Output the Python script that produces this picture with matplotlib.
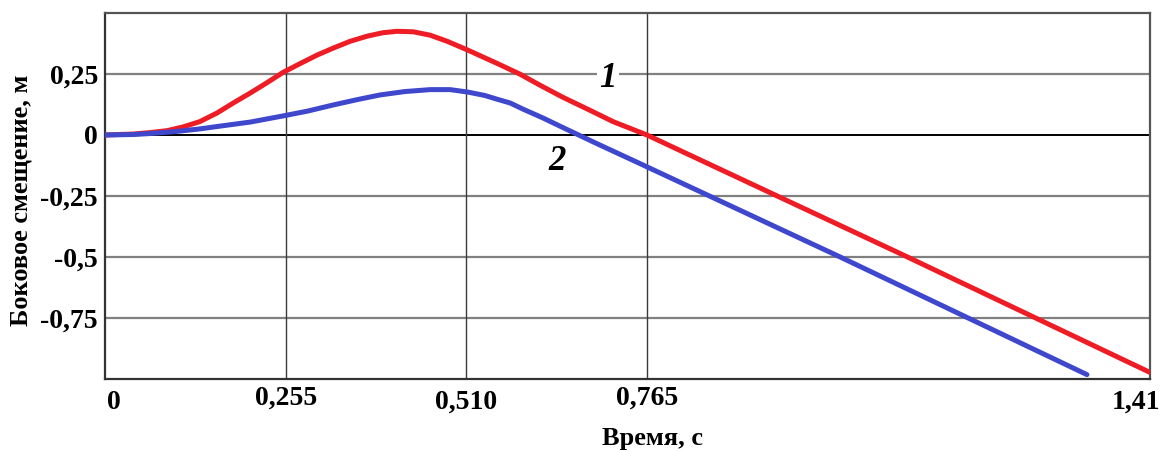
import matplotlib
matplotlib.use("Agg")
from matplotlib import pyplot as plt
from matplotlib import transforms

# Кривая 1 (красная): время, с / боковое смещение, м
t1 = [0, 0.040, 0.064, 0.088, 0.110, 0.134, 0.158, 0.181, 0.205, 0.229, 0.251,
      0.275, 0.299, 0.322, 0.346, 0.370, 0.392, 0.412, 0.435, 0.459, 0.483,
      0.512, 0.553, 0.586, 0.614, 0.646, 0.684, 0.717, 0.765, 1.132, 1.475]
y1 = [0, 0.004, 0.010, 0.018, 0.033, 0.055, 0.090, 0.131, 0.172, 0.215, 0.256,
      0.292, 0.327, 0.356, 0.384, 0.405, 0.419, 0.425, 0.423, 0.409, 0.384,
      0.348, 0.294, 0.249, 0.204, 0.155, 0.102, 0.055, 0.0, -0.499, -0.973]

# Кривая 2 (синяя)
t2 = [0, 0.040, 0.064, 0.099, 0.134, 0.169, 0.205, 0.251, 0.286, 0.322, 0.356,
      0.388, 0.423, 0.459, 0.487, 0.512, 0.536, 0.553, 0.572, 0.590, 0.618,
      0.646, 0.670, 0.694, 0.755, 1.037, 1.386]
y2 = [0, 0.002, 0.006, 0.014, 0.025, 0.039, 0.053, 0.078, 0.098, 0.123, 0.145,
      0.164, 0.178, 0.186, 0.186, 0.176, 0.162, 0.147, 0.131, 0.106, 0.070,
      0.031, -0.002, -0.035, -0.117, -0.499, -0.982]

xticks = [0, 0.255, 0.510, 0.765, 1.475]
xlabels = ["0", "0,255", "0,510", "0,765", "1,41"]
yticks = [0.25, 0, -0.25, -0.5, -0.75]
ylabels = ["0,25", "0", "-0,25", "-0,5", "-0,75"]

plt.rcParams['font.family'] = ['Liberation Serif', 'DejaVu Serif']
plt.rcParams['font.weight'] = 'bold'

fig = plt.figure(figsize=(11.68, 4.51), dpi=100)
ax = fig.add_axes([0.0899, 0.1596, 0.8947, 0.8116])

# сетка
for v in [0.25, -0.25, -0.5, -0.75]:
    ax.axhline(v, color="#808080", lw=1.6, zorder=1)
ax.axhline(0, color="black", lw=1.4, zorder=1)
for v in xticks[1:4]:
    ax.axvline(v, color="#3a3a3a", lw=1.0, zorder=1)

ax.plot(t1, y1, color="#ee1c25", lw=3.6, solid_capstyle="round", zorder=3)
ax.plot(t2, y2, color="#3f48cc", lw=3.6, solid_capstyle="round", zorder=4)

ax.text(0.710, 0.233, "1", fontsize=25, style="italic", weight="bold",
        ha="center", va="center", zorder=2,
        bbox=dict(facecolor="white", edgecolor="none", pad=2))
ax.text(0.638, -0.110, "2", fontsize=25, style="italic", weight="bold",
        ha="center", va="center", zorder=5)

ax.set_xlim(0, 1.475)
ax.set_ylim(-1.0, 0.5)

ax.set_xticks(xticks)
ax.set_xticklabels(xlabels, fontsize=20, fontweight="bold")
ax.set_yticks(yticks)
ax.set_yticklabels(ylabels, fontsize=20, fontweight="bold")
ax.tick_params(axis="both", length=0)
ax.tick_params(axis="y", pad=5)

# ступенчатое расположение подписей по оси X
for i, tk in enumerate(ax.xaxis.get_major_ticks()):
    tk.set_pad(8 if i % 2 == 0 else 5)
lbls = ax.get_xticklabels()
lbls[0].set_ha("left")
lbls[0].set_transform(lbls[0].get_transform() +
                      transforms.ScaledTranslation(2 / 100, 0, fig.dpi_scale_trans))
lbls[-1].set_ha("right")
lbls[-1].set_transform(lbls[-1].get_transform() +
                       transforms.ScaledTranslation(10 / 100, 0, fig.dpi_scale_trans))

ax.set_xlabel("Время, с", fontsize=19, fontweight="bold")
ax.xaxis.set_label_coords(0.524, -0.132)
ax.set_ylabel("Боковое смещение, м", fontsize=19, fontweight="bold")
ax.yaxis.set_label_coords(-0.069, 0.489)

for side in ["left", "bottom"]:
    ax.spines[side].set_color("#333333")
    ax.spines[side].set_linewidth(1.6)
for side in ["top", "right"]:
    ax.spines[side].set_color("#555555")
    ax.spines[side].set_linewidth(1.6)

fig.savefig("out.png", dpi=100)
